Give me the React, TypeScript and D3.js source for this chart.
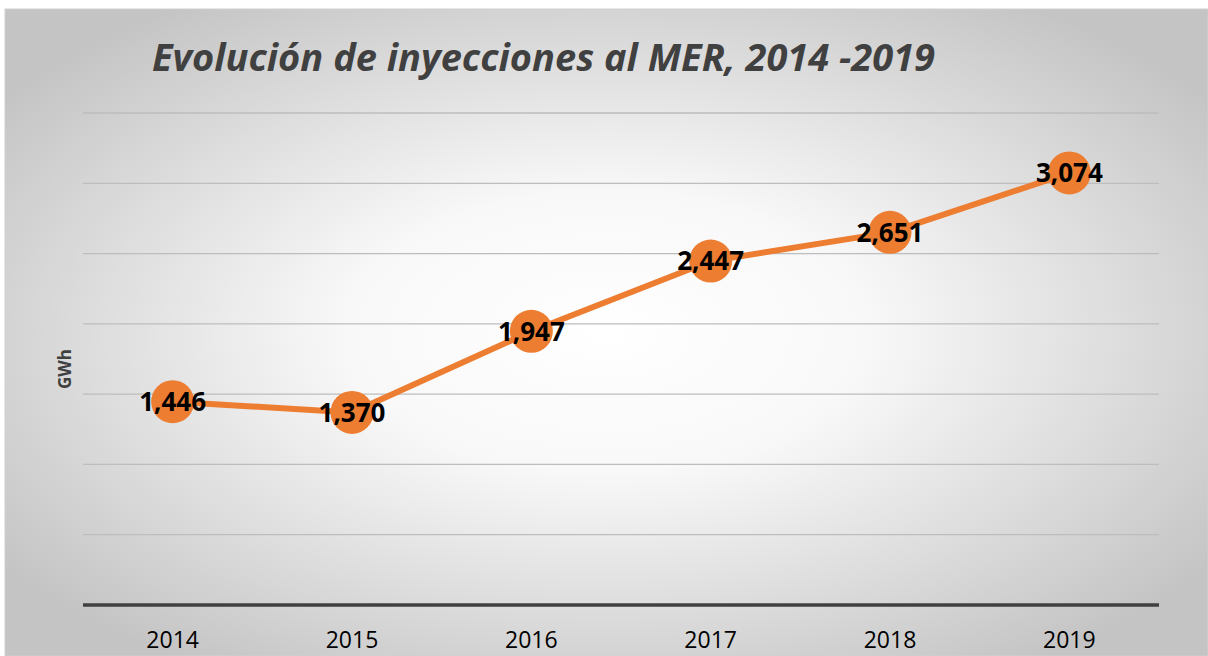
import React from "react";
import * as d3 from "d3";

const years: string[] = ["2014", "2015", "2016", "2017", "2018", "2019"];
const values: number[] = [1446, 1370, 1947, 2447, 2651, 3074];
const gridTicks: number[] = [500, 1000, 1500, 2000, 2500, 3000, 3500];
const title = "Evolución de inyecciones al MER, 2014 -2019";
const yLabel = "GWh";

export default function App() {
  const W = 1208, H = 656;
  const left = 83, right = 1159, top = 113, bottom = 605;
  const x = d3.scaleBand<string>().domain(years).range([left, right]);
  const y = d3.scaleLinear().domain([0, 3500]).range([bottom, top]);
  const cx = (d: string) => (x(d) as number) + x.bandwidth() / 2;
  const line = d3.line<number>().x((_, i) => cx(years[i])).y((v) => y(v));
  const fmt = d3.format(",");
  const font = "'Open Sans', 'Liberation Sans', sans-serif";
  return (
    <svg width={W} height={H} style={{ position: "absolute", left: 0, top: 0 }}>
      <defs>
        <radialGradient id="bg" cx="0.5" cy="0.5" r="0.62" gradientUnits="objectBoundingBox">
          <stop offset="0" stopColor="#ffffff" />
          <stop offset="0.35" stopColor="#f8f8f8" />
          <stop offset="1" stopColor="#c4c4c4" />
        </radialGradient>
      </defs>
      <rect x={0} y={0} width={W} height={H} fill="#ffffff" />
      <rect x={5} y={9} width={W - 5} height={H - 9} fill="url(#bg)" stroke="#d0d0d0" strokeWidth={1} />
      <text
        x={152}
        y={71}
        fontFamily={font}
        fontWeight="bold"
        fontStyle="italic"
        fontSize={37}
        fill="#404040"
        textLength={783}
        lengthAdjust="spacingAndGlyphs"
      >
        {title}
      </text>
      {gridTicks.map((t) => (
        <line key={t} x1={left} x2={right} y1={y(t)} y2={y(t)} stroke="#bdbdbd" strokeWidth={1.3} />
      ))}
      <line x1={left} x2={right} y1={y(0)} y2={y(0)} stroke="#404040" strokeWidth={3.5} />
      {years.map((yr) => (
        <text key={yr} x={cx(yr)} y={648} textAnchor="middle" fontFamily={font} fontSize={23} fill="#000">
          {yr}
        </text>
      ))}
      <text
        transform={`translate(71,369) rotate(-90)`}
        textAnchor="middle"
        fontFamily={font}
        fontWeight="bold"
        fontSize={17}
        fill="#404040"
      >
        {yLabel}
      </text>
      <path d={line(values) || ""} fill="none" stroke="#ed7d31" strokeWidth={6} strokeLinejoin="round" />
      {values.map((v, i) => (
        <circle key={i} cx={cx(years[i])} cy={y(v)} r={21.5} fill="#ed7d31" />
      ))}
      {values.map((v, i) => (
        <text
          key={"l" + i}
          x={cx(years[i])}
          y={y(v)}
          dy="0.36em"
          textAnchor="middle"
          fontFamily={font}
          fontWeight="bold"
          fontSize={26}
          fill="#000"
        >
          {fmt(v)}
        </text>
      ))}
    </svg>
  );
}
